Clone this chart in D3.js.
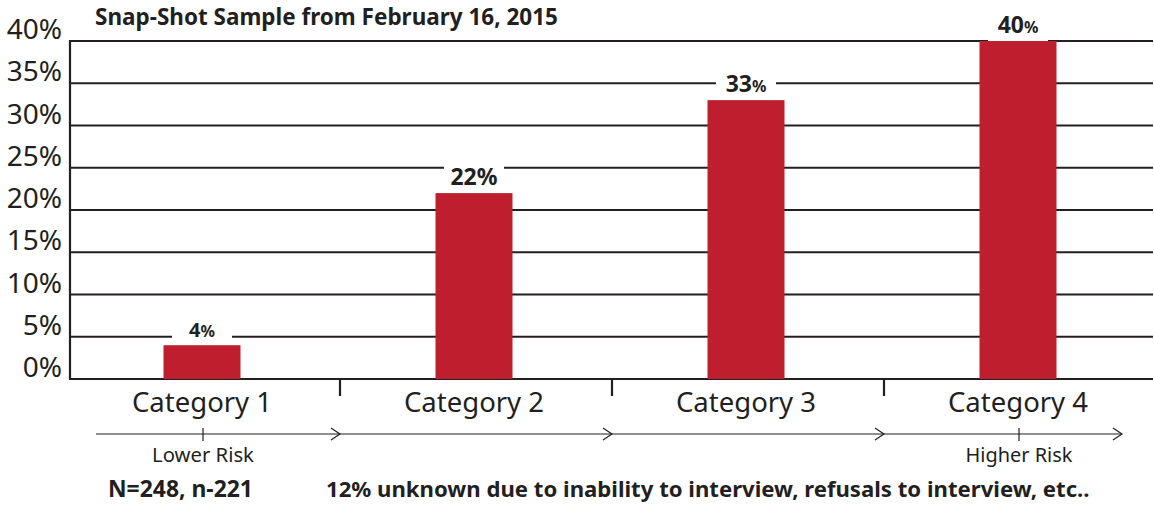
<!DOCTYPE html>
<html>
<head>
<meta charset="utf-8">
<script src="https://cdn.jsdelivr.net/npm/d3@7"></script>
<style>
  html, body { margin: 0; padding: 0; background: #fff; }
  svg { display: block; }
  text { font-family: "Noto Sans", "Open Sans", sans-serif; fill: #231f20; }
</style>
</head>
<body>
<script>
// ---- data ----
const categories = ["Category 1", "Category 2", "Category 3", "Category 4"];
const values = [4, 22, 33, 40];
const yTicks = [0, 5, 10, 15, 20, 25, 30, 35, 40];
const yTickLabels = ["0%", "5%", "10%", "15%", "20%", "25%", "30%", "35%", "40%"];
const title = "Snap-Shot Sample from February 16, 2015";
const riskLabels = ["Lower Risk", "Higher Risk"];
const footnoteLeft = "N=248, n-221";
const footnoteRight = "12% unknown due to inability to interview, refusals to interview, etc..";

// ---- layout ----
const W = 1154, H = 506;
const ink = "#231f20", red = "#be1e2d";

const svg = d3.select("body").append("svg").attr("width", W).attr("height", H);

const x = d3.scaleBand().domain(categories).range([66, 1154])
  .paddingInner(0.717).paddingOuter(0.3585).align(0.5);
const y = d3.scaleLinear().domain([0, 40]).range([379, 41]);
const step = x.step();
const band0 = x.range()[0];
const bandStart = c => band0 + categories.indexOf(c) * step;
const bandCenter = c => x(c) + x.bandwidth() / 2;

function fit(sel, target) {
  sel.each(function () {
    const fs = parseFloat(d3.select(this).attr("font-size"));
    const w = this.getComputedTextLength();
    if (w > 0) d3.select(this).attr("font-size", (fs * target / w).toFixed(2));
  });
}

// gridlines
svg.append("g").selectAll("line").data(yTicks).join("line")
  .attr("x1", 70).attr("x2", 1153)
  .attr("y1", d => y(d)).attr("y2", d => y(d))
  .attr("stroke", ink).attr("stroke-width", 2);

// y axis line
svg.append("line").attr("x1", 70).attr("x2", 70)
  .attr("y1", y(40) - 1).attr("y2", y(0) + 1)
  .attr("stroke", ink).attr("stroke-width", 2.2);

// y tick labels
svg.append("g").selectAll("text").data(yTicks).join("text")
  .attr("x", 62).attr("y", d => y(d) - 2)
  .attr("text-anchor", "end").attr("font-size", 28)
  .text((d, i) => yTickLabels[i]);

// category boundary ticks
svg.append("g").selectAll("line").data(categories.slice(1)).join("line")
  .attr("x1", d => bandStart(d) + 2).attr("x2", d => bandStart(d) + 2)
  .attr("y1", y(0)).attr("y2", y(0) + 17)
  .attr("stroke", ink).attr("stroke-width", 2.2);

// label backgrounds (white boxes interrupting the gridlines)
const labelGap = 8;
svg.append("g").selectAll("rect").data(values).join("rect")
  .attr("x", (d, i) => bandCenter(categories[i]) - 30)
  .attr("width", 60)
  .attr("y", d => y(d) - labelGap - 22)
  .attr("height", d => 22 + labelGap)
  .attr("fill", "#fff");

// bars
svg.append("g").selectAll("rect").data(values).join("rect")
  .attr("x", (d, i) => x(categories[i]))
  .attr("width", x.bandwidth())
  .attr("y", d => y(d))
  .attr("height", d => y(0) - y(d))
  .attr("fill", red);

// value labels
const digitSize = [20, 23, 23, 23];
const pctSize = [16, 23, 16, 16];
const vl = svg.append("g").selectAll("text").data(values).join("text")
  .attr("x", (d, i) => bandCenter(categories[i]))
  .attr("y", d => y(d) - labelGap)
  .attr("text-anchor", "middle").attr("font-weight", "bold");
vl.append("tspan").attr("font-size", (d, i) => digitSize[i]).text(d => d);
vl.append("tspan").attr("font-size", (d, i) => pctSize[i]).text("%");

// category labels
svg.append("g").selectAll("text").data(categories).join("text")
  .attr("x", d => bandCenter(d)).attr("y", 412)
  .attr("text-anchor", "middle").attr("font-size", 27.5)
  .text(d => d);

// risk arrow line
const arrowY = 434;
const arrowStart = 96, arrowEnd = 1122;
svg.append("line").attr("x1", arrowStart).attr("x2", arrowEnd)
  .attr("y1", arrowY).attr("y2", arrowY)
  .attr("stroke", ink).attr("stroke-width", 1.2);
const heads = categories.slice(1).map(c => bandStart(c) + 2).concat([arrowEnd]);
svg.append("g").selectAll("path").data(heads).join("path")
  .attr("d", d => `M${d - 9},${arrowY - 6} L${d},${arrowY} L${d - 9},${arrowY + 6}`)
  .attr("fill", "none").attr("stroke", ink).attr("stroke-width", 1.2);
const riskCats = [categories[0], categories[categories.length - 1]];
svg.append("g").selectAll("line").data(riskCats).join("line")
  .attr("x1", d => bandCenter(d) + 1).attr("x2", d => bandCenter(d) + 1)
  .attr("y1", arrowY - 6).attr("y2", arrowY + 7)
  .attr("stroke", ink).attr("stroke-width", 1.2);

// risk labels
const rl = svg.append("g").selectAll("text").data(riskLabels).join("text")
  .attr("x", (d, i) => bandCenter(riskCats[i]) + 1).attr("y", 462)
  .attr("text-anchor", "middle").attr("font-size", 19)
  .text(d => d);
rl.each(function (d, i) { fit(d3.select(this), i === 0 ? 102 : 107); });

// title
svg.append("text").attr("x", 95).attr("y", 25)
  .attr("font-size", 20).attr("font-weight", "bold")
  .text(title).call(fit, 463);

// footnotes
svg.append("text").attr("x", 108).attr("y", 497)
  .attr("font-size", 20).attr("font-weight", "bold")
  .text(footnoteLeft).call(fit, 145);
svg.append("text").attr("x", 326).attr("y", 497)
  .attr("font-size", 20).attr("font-weight", "bold")
  .text(footnoteRight).call(fit, 764);
</script>
</body>
</html>
